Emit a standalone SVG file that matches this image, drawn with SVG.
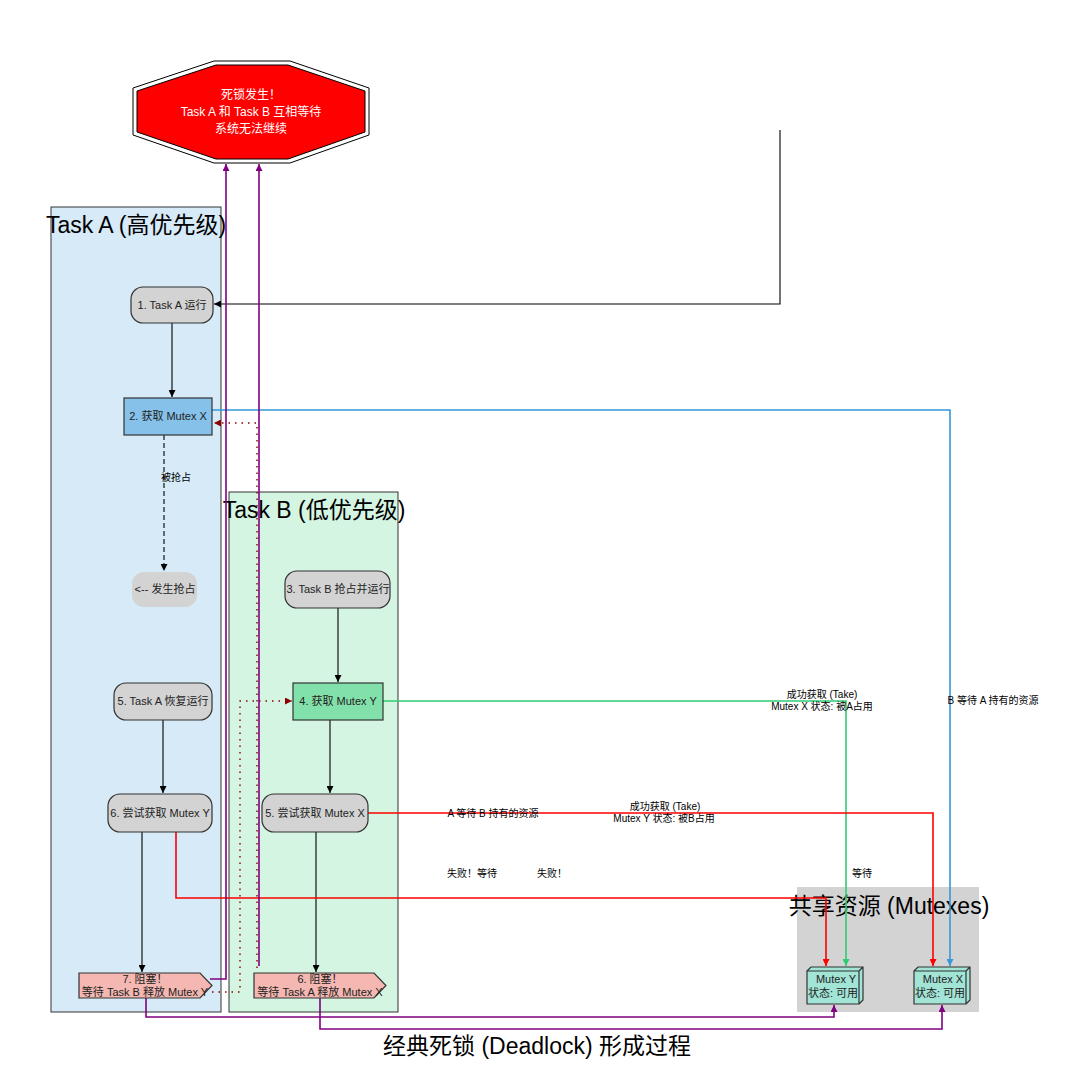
<svg xmlns="http://www.w3.org/2000/svg" width="1080" height="1075" viewBox="0 0 1080 1075">
<style>
text{font-family:"Liberation Sans","Noto Sans CJK SC",sans-serif;fill:#1a1a1a}
.ct{font-size:23px;text-anchor:middle;fill:#000}
.nt{font-size:11px;text-anchor:middle;fill:#222}
.lt{font-size:10px;text-anchor:middle;fill:#000}
.ot{font-size:12px;text-anchor:middle;fill:#fff}
.e{fill:none;stroke-width:1.6}
.blk{stroke:#000;stroke-width:1.1}
.blue{stroke:#3498db}
.green{stroke:#2ecc71}
.red{stroke:#ff0000}
.pur{stroke:#800080}
.dot{stroke:#8b0000;stroke-dasharray:1.5 5;stroke-width:1.4}
.node{stroke:#333;stroke-width:1.2}
</style>
<defs>
<marker id="aBlk" viewBox="0 0 10 10" refX="10" refY="5" markerWidth="10" markerHeight="7" markerUnits="userSpaceOnUse" orient="auto"><path d="M0,0L10,5L0,10z" fill="#000"/></marker>
<marker id="aBlue" viewBox="0 0 10 10" refX="10" refY="5" markerWidth="10" markerHeight="7" markerUnits="userSpaceOnUse" orient="auto"><path d="M0,0L10,5L0,10z" fill="#3498db"/></marker>
<marker id="aGreen" viewBox="0 0 10 10" refX="10" refY="5" markerWidth="10" markerHeight="7" markerUnits="userSpaceOnUse" orient="auto"><path d="M0,0L10,5L0,10z" fill="#2ecc71"/></marker>
<marker id="aRed" viewBox="0 0 10 10" refX="10" refY="5" markerWidth="10" markerHeight="7" markerUnits="userSpaceOnUse" orient="auto"><path d="M0,0L10,5L0,10z" fill="#ff0000"/></marker>
<marker id="aPur" viewBox="0 0 10 10" refX="10" refY="5" markerWidth="10" markerHeight="7" markerUnits="userSpaceOnUse" orient="auto"><path d="M0,0L10,5L0,10z" fill="#800080"/></marker>
<marker id="aDR" viewBox="0 0 10 10" refX="10" refY="5" markerWidth="10" markerHeight="7" markerUnits="userSpaceOnUse" orient="auto"><path d="M0,0L10,5L0,10z" fill="#8b0000"/></marker>
</defs>
<rect width="1080" height="1075" fill="#fff"/>

<g id="clusters">
<g id="clusterA"><rect x="51" y="207" width="170" height="805" fill="#d6eaf8" stroke="#333" stroke-width="1"/><text class="ct" x="136" y="233">Task A (高优先级)</text></g>
<g id="clusterB"><rect x="229" y="492" width="169" height="520" fill="#d5f5e3" stroke="#333" stroke-width="1"/><text class="ct" x="314" y="518">Task B (低优先级)</text></g>
<g id="clusterRes"><rect x="797" y="887" width="182" height="125" fill="#d3d3d3"/><text class="ct" x="889" y="914">共享资源 (Mutexes)</text></g>
</g>

<g id="deadlock">
<polygon points="214,61 290,61 369,88 369,135 290,163 214,163 133,135 133,88" fill="#fff" stroke="#000" stroke-width="1"/>
<polygon points="216,65 288,65 365,91 365,132 288,159 216,159 137,132 137,91" fill="#ff0000" stroke="#000" stroke-width="1"/>
<text class="ot" x="251" y="99">死锁发生！</text>
<text class="ot" x="251" y="116">Task A 和 Task B 互相等待</text>
<text class="ot" x="251" y="133">系统无法继续</text>
</g>

<g id="connectors">
<path class="e blk" d="M780,130V304H214" marker-end="url(#aBlk)"/>
<path class="e blk" d="M172,323V397" marker-end="url(#aBlk)"/>
<path class="e blk" d="M164,435V571" stroke-dasharray="5 3" marker-end="url(#aBlk)"/>
<path class="e blk" d="M338,608V682" marker-end="url(#aBlk)"/>
<path class="e blk" d="M330,720V793" marker-end="url(#aBlk)"/>
<path class="e blk" d="M163,720V793" marker-end="url(#aBlk)"/>
<path class="e blk" d="M142,832V972" marker-end="url(#aBlk)"/>
<path class="e blk" d="M316,832V972" marker-end="url(#aBlk)"/>
<path class="e blue" d="M212,410H950V966" marker-end="url(#aBlue)"/>
<path class="e green" d="M383,701H846V966" marker-end="url(#aGreen)"/>
<path class="e red" d="M368,813H933V966" marker-end="url(#aRed)"/>
<path class="e red" d="M176,832V898H826V966" marker-end="url(#aRed)"/>
<path class="e dot" d="M257,968V423H214" marker-end="url(#aDR)"/>
<path class="e dot" d="M212,992H240V701H292" marker-end="url(#aDR)"/>
<path class="e pur" d="M210,979H226V164" marker-end="url(#aPur)"/>
<path class="e pur" d="M259,966V164" marker-end="url(#aPur)"/>
<path class="e pur" d="M146,998V1017H834V1005" marker-end="url(#aPur)"/>
<path class="e pur" d="M320,998V1029H942V1005" marker-end="url(#aPur)"/>
<text class="lt" x="176" y="481">被抢占</text>
<text class="lt" x="822" y="698">成功获取 (Take)</text>
<text class="lt" x="822" y="710">Mutex X 状态: 被A占用</text>
<text class="lt" x="993" y="704">B 等待 A 持有的资源</text>
<text class="lt" x="493" y="817">A 等待 B 持有的资源</text>
<text class="lt" x="665" y="810">成功获取 (Take)</text>
<text class="lt" x="664" y="822">Mutex Y 状态: 被B占用</text>
<text class="lt" x="472" y="877">失败！等待</text>
<text class="lt" x="552" y="877">失败！</text>
<text class="lt" x="862" y="877">等待</text>
</g>

<g id="n1"><rect class="node" x="131" y="287" width="82" height="36" rx="12" fill="#d3d3d3"/><text class="nt" x="172" y="309">1. Task A 运行</text></g>
<g id="n2"><rect class="node" x="124" y="398" width="88" height="37" fill="#85c1e9" stroke="#2c4f6b"/><text class="nt" x="168" y="420">2. 获取 Mutex X</text></g>
<g id="nPre"><rect x="132" y="572" width="65" height="35" rx="12" fill="#d3d3d3"/><text class="nt" x="165" y="593">&lt;-- 发生抢占</text></g>
<g id="n3"><rect class="node" x="285" y="571" width="105" height="37" rx="12" fill="#d3d3d3"/><text class="nt" x="338" y="593">3. Task B 抢占并运行</text></g>
<g id="n4"><rect class="node" x="293" y="683" width="90" height="37" fill="#82e0aa" stroke="#2f5e44"/><text class="nt" x="338" y="705">4. 获取 Mutex Y</text></g>
<g id="n5A"><rect class="node" x="114" y="683" width="98" height="37" rx="12" fill="#d3d3d3"/><text class="nt" x="163" y="705">5. Task A 恢复运行</text></g>
<g id="n6A"><rect class="node" x="108" y="794" width="104" height="38" rx="12" fill="#d3d3d3"/><text class="nt" x="160" y="817">6. 尝试获取 Mutex Y</text></g>
<g id="n5B"><rect class="node" x="262" y="794" width="106" height="38" rx="12" fill="#d3d3d3"/><text class="nt" x="315" y="817">5. 尝试获取 Mutex X</text></g>
<g id="n7A"><polygon class="node" points="79,973 200,973 212,985.5 200,998 79,998" fill="#f5b7b1"/><text class="nt" x="145" y="983">7. 阻塞！</text><text class="nt" x="145" y="996">等待 Task B 释放 Mutex Y</text></g>
<g id="n6B"><polygon class="node" points="254,973 374,973 386,985.5 374,998 254,998" fill="#f5b7b1"/><text class="nt" x="320" y="983">6. 阻塞！</text><text class="nt" x="320" y="996">等待 Task A 释放 Mutex X</text></g>
<g id="mY"><path class="node" d="M807,971H859V1004H807Z M807,971L811,967H863V1000L859,1004 M859,971L863,967" fill="#a2e4d6"/><text class="nt" x="836" y="983">Mutex Y</text><text class="nt" x="833" y="997">状态: 可用</text></g>
<g id="mX"><path class="node" d="M914,971H966V1004H914Z M914,971L918,967H970V1000L966,1004 M966,971L970,967" fill="#a2e4d6"/><text class="nt" x="943" y="983">Mutex X</text><text class="nt" x="940" y="997">状态: 可用</text></g>

<text class="ct" x="537" y="1054">经典死锁 (Deadlock) 形成过程</text>
</svg>
